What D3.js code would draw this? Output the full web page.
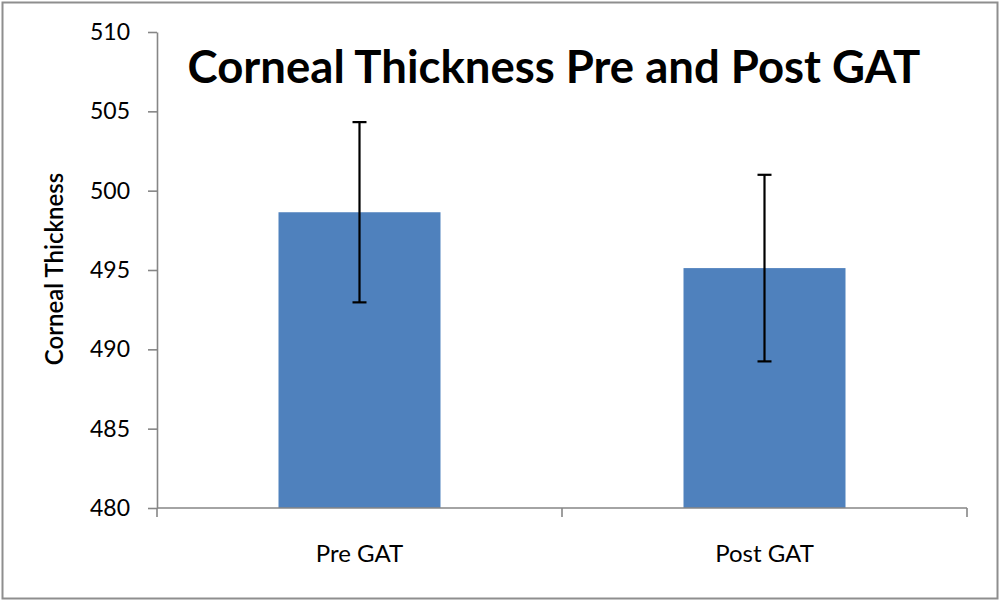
<!DOCTYPE html>
<html><head><meta charset="utf-8">
<script src="https://cdn.jsdelivr.net/npm/d3@7"></script>
<style>body{margin:0;background:#fff}svg{display:block}</style>
</head><body>
<svg id="c" width="1000" height="602"></svg>
<script>
const categories = ["Pre GAT", "Post GAT"];
const means = [498.64, 495.12];
const errors = [5.68, 5.88];
const yTicks = [480, 485, 490, 495, 500, 505, 510];
const title = "Corneal Thickness Pre and Post GAT";
const yTitle = "Corneal Thickness";

const svg = d3.select("#c");
const font = "Lato, 'Open Sans', sans-serif";
const axisColor = "#868686";

svg.append("rect").attr("x",0).attr("y",0).attr("width",1000).attr("height",602).attr("fill","#fff");
svg.append("rect").attr("x",2.5).attr("y",2.5).attr("width",995).attr("height",596)
  .attr("fill","none").attr("stroke","#8e8e8e").attr("stroke-width",2);

const x = d3.scaleBand().domain(categories).range([157, 967]).paddingInner(0.6).paddingOuter(0.3);
const y = d3.scaleLinear().domain([480, 510]).range([508, 32]);

// bars
svg.selectAll(".bar").data(categories).enter().append("rect")
  .attr("x", d => x(d)).attr("width", x.bandwidth())
  .attr("y", (d,i) => y(means[i])).attr("height", (d,i) => y(480) - y(means[i]))
  .attr("fill", "#4F81BD");

// error bars
const eb = svg.selectAll(".eb").data(categories).enter().append("g")
  .attr("stroke","#000").attr("stroke-width",2.2);
eb.append("line").attr("x1", d => x(d)+x.bandwidth()/2).attr("x2", d => x(d)+x.bandwidth()/2)
  .attr("y1",(d,i)=>y(means[i]+errors[i])).attr("y2",(d,i)=>y(means[i]-errors[i]));
eb.append("line").attr("x1", d => x(d)+x.bandwidth()/2-7).attr("x2", d => x(d)+x.bandwidth()/2+7)
  .attr("y1",(d,i)=>y(means[i]+errors[i])).attr("y2",(d,i)=>y(means[i]+errors[i]));
eb.append("line").attr("x1", d => x(d)+x.bandwidth()/2-7).attr("x2", d => x(d)+x.bandwidth()/2+7)
  .attr("y1",(d,i)=>y(means[i]-errors[i])).attr("y2",(d,i)=>y(means[i]-errors[i]));

// y axis
const ya = svg.append("g").attr("transform","translate(157,0)")
  .call(d3.axisLeft(y).tickValues(yTicks).tickSize(9).tickSizeOuter(0).tickPadding(18));
ya.selectAll("line,path").attr("stroke", axisColor).attr("stroke-width",1.6);
ya.selectAll("text").attr("font-family", font).attr("font-size", 23).attr("fill","#000");

// x axis
svg.append("line").attr("x1",157).attr("x2",967).attr("y1",y(480)).attr("y2",y(480))
  .attr("stroke",axisColor).attr("stroke-width",1.6);
const bounds = d3.range(categories.length+1).map(i => x.range()[0] + i*x.step());
svg.selectAll(".xt").data(bounds).enter().append("line")
  .attr("x1",d=>d).attr("x2",d=>d).attr("y1",y(480)).attr("y2",y(480)+9)
  .attr("stroke",axisColor).attr("stroke-width",1.6);
svg.selectAll(".xl").data(categories).enter().append("text")
  .attr("x", d => x(d)+x.bandwidth()/2).attr("y", 562)
  .attr("text-anchor","middle").attr("font-family",font).attr("font-size",24).attr("fill","#000")
  .text(d=>d);

// titles
svg.append("text").attr("x",554).attr("y",83).attr("text-anchor","middle")
  .attr("font-family",font).attr("font-weight","bold").attr("font-size",45.5).attr("fill","#000")
  .text(title);
svg.append("text").attr("transform","translate(63,269) rotate(-90)").attr("text-anchor","middle")
  .attr("font-family",font).attr("font-weight","600").attr("font-size",24).attr("fill","#000")
  .text(yTitle);
</script>
</body></html>
